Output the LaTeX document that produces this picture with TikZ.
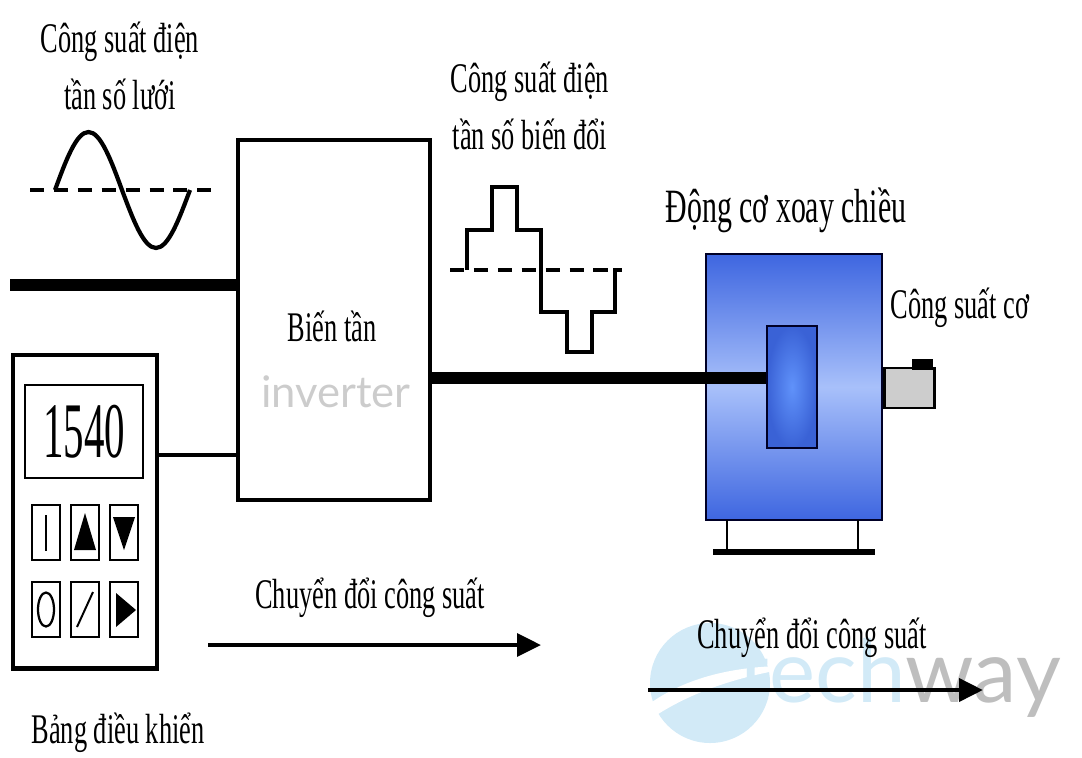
\documentclass[tikz,border=0pt]{standalone}
\usepackage{fontspec}
\setmainfont{Liberation Serif}[FakeStretch=0.625]
\newfontfamily\ziffern{Liberation Serif}[FakeStretch=0.52]
\newfontfamily\logofont{Lato}
\usetikzlibrary{positioning,arrows.meta}

\begin{document}
\begin{tikzpicture}[x=0.025cm, y=-0.025cm, font=\fontsize{30}{41}\selectfont,
		box/.style={rectangle, draw, line width=2.8pt, inner sep=0pt},
		knopf/.style={rectangle, draw, line width=1.4pt, minimum width=0.7cm, minimum height=1.375cm, inner sep=0pt},
		welle/.style={line width=3pt},
		nulllinie/.style={line width=3pt, dash pattern=on 10pt off 7pt},
		fluss/.style={line width=3pt, -{Triangle[length=17pt, width=16pt]}}]

		% Farben definieren
		\definecolor{motorblue}{RGB}{62,102,224}
		\definecolor{motorlight}{RGB}{168,192,250}
		\definecolor{rotorblue}{RGB}{58,98,214}
		\definecolor{rotorlight}{RGB}{96,146,250}
		\definecolor{shaftgray}{RGB}{205,205,205}
		\definecolor{logoblue}{RGB}{210,234,247}
		\definecolor{logogray}{RGB}{190,190,190}

		\useasboundingbox (0,0) rectangle (1082,757);

		% --- Logo im Hintergrund ---
		\fill[logoblue] (710,683) circle[radius=60];
		\fill[white] (652,702) .. controls (690,676) and (740,664) .. (805,666) .. controls (745,674) and (695,690) .. (655,716) -- cycle;
		\node[anchor=base west, inner sep=0pt, font=\logofont\fontsize{62}{62}\selectfont] (logo) at (738,702)
		{\textcolor{logoblue}{tech}\textcolor{logogray}{way}};

		% --- Netz links ---
		\node[align=center] (netztitel) at (120,66) {Công suất điện\\tần số lưới};
		\draw[nulllinie] (30,190) -- (216,190);
		\draw[welle] (55,190) sin (88.5,132) cos (122,190) sin (156,248) cos (190,190);

		% --- Biến tần ---
		\node[box, minimum width=4.8cm, minimum height=9cm] (inv) at (334,320) {};
		\node (invtext) at (332,326) {Biến tần};
		\node[font=\logofont\fontsize{31}{31}\selectfont, text=black!20] (invlogo) at (336,392) {inverter};

		\coordinate (netz) at (10,285);
		\draw[line width=8.5pt] (netz) -- (netz -| inv.west);

		% --- Bedienfeld ---
		\node[rectangle, draw, line width=3.5pt, minimum width=3.6cm, minimum height=7.825cm] (panel) at (85,511.5) {};
		\node[rectangle, draw, line width=1.4pt, minimum width=2.95cm, minimum height=2.325cm, font=\ziffern\fontsize{56}{56}\selectfont] (anzeige) at (84,431.5) {1540};
		\node[knopf] (k1) at (46,532.5) {};
		\node[knopf] (k2) at (85,532.5) {};
		\node[knopf] (k3) at (124,532.5) {};
		\node[knopf] (k4) at (46,609.5) {};
		\node[knopf] (k5) at (85,609.5) {};
		\node[knopf] (k6) at (124,609.5) {};
		% Symbole auf den Tasten
		\draw[line width=1.4pt] ([yshift=-0.45cm]k1.center) -- ([yshift=0.45cm]k1.center);
		\fill (85,513) -- (96,550) -- (74,550) -- cycle;
		\fill (113,517) -- (135,517) -- (124,550) -- cycle;
		\draw[line width=1.6pt] (k4.center) ellipse[x radius=8, y radius=17];
		\draw[line width=1.4pt] (77,627) -- (93,592);
		\fill (116,593) -- (136,610) -- (116,627) -- cycle;
		\node (paneltitel) at (118,733) {Bảng điều khiển};

		\coordinate (steuer) at (157,455);
		\draw[line width=3.5pt] (steuer) -- (steuer -| inv.west);

		% --- Ausgangsspannung ---
		\node[align=center] (umrtitel) at (530,106) {Công suất điện\\tần số biến đổi};
		\draw[nulllinie] (450,270) -- (622,270);
		\draw[welle] (467,270) |- (492,230) |- (517,187) |- (541,230) |- (567,312) |- (592,352) |- (615,312) -- (615,268);

		% --- Motor ---
		\node[rectangle, draw=black!85!blue, line width=1.5pt, top color=motorblue, bottom color=motorblue, middle color=motorlight, minimum width=4.4cm, minimum height=6.65cm] (motor) at (794,387) {};
		\node[rectangle, draw=black!85!blue, line width=1.5pt, inner color=rotorlight, outer color=rotorblue, minimum width=1.25cm, minimum height=3.05cm] (rotor) at (792,387) {};
		\coordinate (wp) at (882,388);
		\node[rectangle, draw, line width=2pt, fill=shaftgray, minimum width=1.25cm, minimum height=1cm, anchor=west] (welle) at (wp -| motor.east) {};
		\fill (912,359) rectangle (933,370);
		\draw[line width=2pt] (727,520) -- (727,550);
		\draw[line width=2pt] (858,520) -- (858,550);
		\draw[line width=4pt] (713,552) -- (875,552);
		\node[font=\fontsize{34}{34}\selectfont] (motortitel) at (786,210) {Động cơ xoay chiều};
		\node (mechtitel) at (960,308) {Công suất cơ};

		\coordinate (ausgang) at (430,378);
		\draw[line width=8.5pt] (ausgang) -- (ausgang -| rotor.west);

		% --- Leistungsfluss ---
		\coordinate (f1a) at (208,645);
		\coordinate (f1b) at (541,645);
		\draw[fluss] (f1a) -- (f1b);
		\node (fluss1) at (370,598) {Chuyển đổi công suất};
		\coordinate (f2a) at (648,690);
		\coordinate (f2b) at (983,690);
		\draw[fluss, line width=3.5pt] (f2a) -- (f2b);
		\node (fluss2) at (812,638) {Chuyển đổi công suất};

	\end{tikzpicture}
\end{document}
